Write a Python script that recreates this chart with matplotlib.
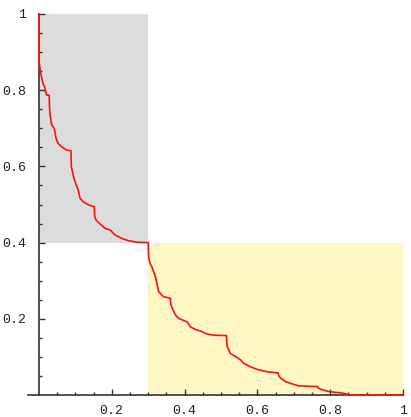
import numpy as np
import matplotlib
matplotlib.use("Agg")
import matplotlib.pyplot as plt
from matplotlib.patches import Rectangle

# corners of the curve, upper-left part (inside the grey box)
x_upper = [0.000, 0.000, 0.004, 0.007, 0.012, 0.015, 0.021, 0.028, 0.029, 0.030,
           0.035, 0.042, 0.047, 0.053, 0.062, 0.076, 0.088, 0.089, 0.093, 0.099,
           0.108, 0.113, 0.122, 0.136, 0.152, 0.153, 0.157, 0.168, 0.182, 0.196,
           0.209, 0.228, 0.246, 0.269, 0.300]
y_upper = [1.000, 0.876, 0.850, 0.836, 0.815, 0.811, 0.787, 0.787, 0.760, 0.739,
           0.709, 0.700, 0.674, 0.660, 0.652, 0.643, 0.641, 0.600, 0.582, 0.560,
           0.538, 0.516, 0.507, 0.499, 0.494, 0.470, 0.459, 0.449, 0.437, 0.433,
           0.420, 0.411, 0.405, 0.401, 0.400]

# corners of the curve, lower-right part (inside the yellow box)
x_lower = [0.300, 0.301, 0.305, 0.310, 0.320, 0.329, 0.342, 0.361, 0.362, 0.366,
           0.375, 0.384, 0.407, 0.416, 0.430, 0.444, 0.462, 0.480, 0.515, 0.516,
           0.517, 0.526, 0.540, 0.554, 0.563, 0.581, 0.600, 0.627, 0.657, 0.659,
           0.664, 0.678, 0.696, 0.714, 0.765, 0.767, 0.774, 0.797, 0.834, 0.857,
           1.000]
y_lower = [0.400, 0.365, 0.345, 0.337, 0.310, 0.271, 0.258, 0.254, 0.240, 0.228,
           0.210, 0.201, 0.192, 0.179, 0.172, 0.168, 0.160, 0.157, 0.156, 0.140,
           0.127, 0.109, 0.101, 0.092, 0.083, 0.074, 0.067, 0.061, 0.058, 0.050,
           0.044, 0.035, 0.029, 0.024, 0.022, 0.018, 0.015, 0.009, 0.005, 0.000,
           0.000]

ticks = [0.2, 0.4, 0.6, 0.8, 1.0]
tick_labels = ["0.2", "0.4", "0.6", "0.8", "1"]
minor = np.arange(0.05, 1.0001, 0.05)

fig = plt.figure(figsize=(4.11, 4.17), dpi=100)
ax = fig.add_axes([28 / 411, 22 / 417, 375 / 411, 381 / 417])
ax.set_xlim(-0.03, 1.0)
ax.set_ylim(0, 1.0)

ax.add_patch(Rectangle((0, 0.4), 0.3, 0.6, facecolor="#dcdcdc", edgecolor="none", zorder=0))
ax.add_patch(Rectangle((0.3, 0), 0.7, 0.4, facecolor="#fff8c4", edgecolor="none", zorder=0))

ax.plot(x_upper + x_lower, y_upper + y_lower, color="#ff1010", lw=1.2,
        zorder=3, clip_on=False)

for s in ["top", "right"]:
    ax.spines[s].set_visible(False)
ax.spines["left"].set_position(("data", 0))
ax.spines["bottom"].set_position(("data", 0))
for s in ["left", "bottom"]:
    ax.spines[s].set_color("#333333")
    ax.spines[s].set_linewidth(1.2)
    ax.spines[s].set_zorder(2)

ax.set_xticks(ticks)
ax.set_xticklabels(tick_labels)
ax.set_yticks(ticks)
ax.set_yticklabels(tick_labels)
ax.set_xticks(minor, minor=True)
ax.set_yticks(minor, minor=True)
ax.tick_params(which="major", direction="in", length=4, width=1, color="#333333",
               labelsize=9.5, pad=7)
ax.tick_params(which="minor", direction="in", length=2.5, width=1, color="#333333")
for lab in ax.get_xticklabels() + ax.get_yticklabels():
    lab.set_family("Liberation Mono")
    lab.set_color("#222222")
ax.tick_params(axis="y", pad=9)

fig.savefig("out.png", dpi=100)
